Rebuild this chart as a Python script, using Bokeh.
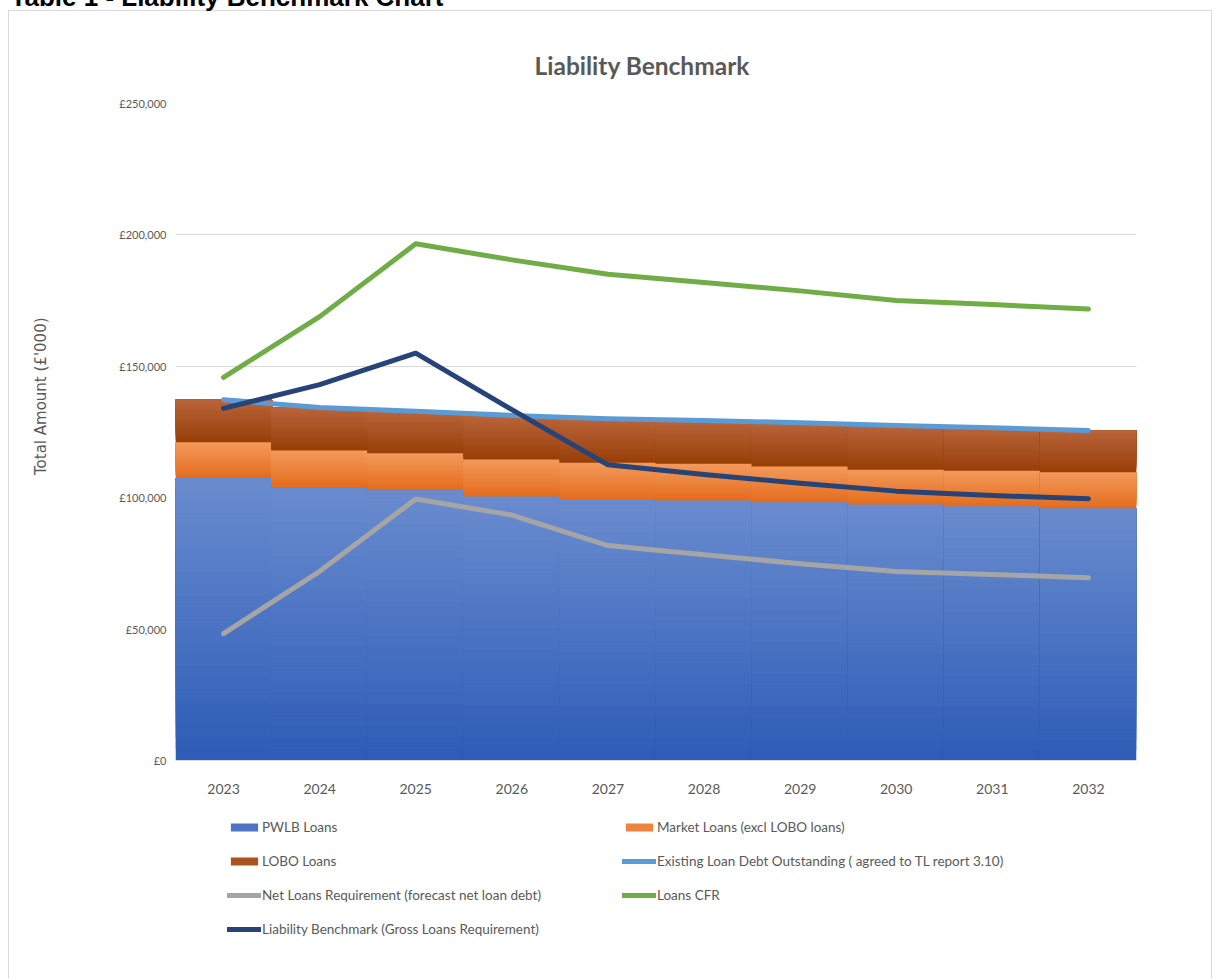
import math
from bokeh.plotting import figure
from bokeh.layouts import column
from bokeh.models import (ColumnDataSource, FactorRange, Range1d, FixedTicker,
                          Legend, LegendItem, Title)
from bokeh.embed import file_html
from bokeh.resources import INLINE

# ---------------- data ----------------
years = ["2023", "2024", "2025", "2026", "2027", "2028", "2029", "2030", "2031", "2032"]
pwlb = [107500, 103800, 103000, 100500, 99100, 98900, 98300, 97400, 96700, 96000]
market = [13600, 14200, 13900, 14000, 14200, 14000, 13600, 13200, 13600, 13700]
lobo = [16200, 16300, 16000, 16800, 16700, 16500, 16600, 16900, 16300, 15900]
existing = [137300, 134300, 132900, 131300, 130000, 129400, 128500, 127500, 126600, 125600]
net_req = [48300, 72000, 99500, 93400, 81800, 78300, 74900, 71900, 70800, 69500]
loans_cfr = [145800, 168900, 196600, 190500, 185000, 181900, 178700, 175000, 173500, 171800]
liab_bench = [134000, 143000, 155000, 133500, 112500, 108800, 105500, 102500, 100800, 99600]
y_ticks = [0, 50000, 100000, 150000, 200000, 250000]
y_tick_labels = ["£0", "£50,000", "£100,000", "£150,000", "£200,000", "£250,000"]

TXT = "#595959"
FONT = "Lato"
GRID = "#d9d9d9"
LG = "linear-gradient(#d9d9d9,#d9d9d9)"

SHIFT = 24                      # layout starts 24px above the page top
W = 1212
H_CHART = 800 + SHIFT
H_LEG = 200

# ================= chart figure =================
p = figure(width=W, height=H_CHART,
           x_range=FactorRange(factors=years, range_padding=0),
           y_range=Range1d(0, 250000),
           output_backend="svg", toolbar_location=None,
           min_border_left=175, min_border_right=76,
           min_border_top=103 + SHIFT, min_border_bottom=H_CHART - (760 + SHIFT),
           styles={"background": f"{LG} 8px 34px / 1px 100% no-repeat, "
                                 f"{LG} 8px 34px / 1204px 1px no-repeat, "
                                 f"{LG} 1211px 34px / 1px 100% no-repeat, #ffffff"})
p.outline_line_color = None
p.background_fill_color = "white"
p.border_fill_alpha = 0

def h2r(h):
    h = h.lstrip("#")
    return tuple(int(h[i:i + 2], 16) for i in (0, 2, 4))

def mix(c1, c2, t):
    a, b = h2r(c1), h2r(c2)
    return "#%02x%02x%02x" % tuple(round(a[i] + (b[i] - a[i]) * t) for i in range(3))

series = [
    ("PWLB Loans", pwlb, "#2d5cb6", "#6a8ccf"),
    ("Market Loans (excl LOBO loans)", market, "#e46c1c", "#f39a5c"),
    ("LOBO Loans", lobo, "#983f08", "#b9643a"),
]
N = 24
base = [0.0] * len(years)
area_sources = []
for name, vals, c_bot, c_top in series:
    xs, bots, tops, cols = [], [], [], []
    for i, yr in enumerate(years):
        b, t = base[i], base[i] + vals[i]
        for k in range(N):
            xs.append(yr)
            bots.append(b + (t - b) * k / N)
            tops.append(t)
            cols.append(mix(c_bot, c_top, (k + 0.5) / N))
        base[i] = t
    src = ColumnDataSource(dict(x=xs, bottom=bots, top=tops, color=cols))
    area_sources.append((name, src))
    p.vbar(x="x", bottom="bottom", top="top", width=1.01, source=src,
           fill_color="color", line_color=None)

line_specs = [
    ("Existing Loan Debt Outstanding ( agreed to TL report 3.10)", existing, "#5b9bd5"),
    ("Net Loans Requirement (forecast net loan debt)", net_req, "#a5a5a5"),
    ("Loans CFR", loans_cfr, "#70ad47"),
    ("Liability Benchmark (Gross Loans Requirement)", liab_bench, "#264478"),
]
for name, vals, col in line_specs:
    p.line(years, vals, line_color=col, line_width=5, line_join="round", line_cap="round")

# axes
p.yaxis.ticker = FixedTicker(ticks=y_ticks)
p.yaxis.major_label_overrides = {v: s for v, s in zip(y_ticks, y_tick_labels)}
p.yaxis.axis_line_color = None
p.yaxis.major_tick_line_color = None
p.yaxis.minor_tick_line_color = None
p.yaxis.major_label_standoff = 3
p.yaxis.major_label_text_font = FONT
p.yaxis.major_label_text_font_size = "11px"
p.yaxis.major_label_text_color = TXT
# leading no-break spaces move the (rotated) label up to where the reference has it
p.yaxis.axis_label = "\u00a0" * 15 + "Total Amount (£'000)"
p.yaxis.axis_label_standoff = 66
p.yaxis.axis_label_text_font = "DejaVu Sans"
p.yaxis.axis_label_text_font_style = "normal"
p.yaxis.axis_label_text_font_size = "15px"
p.yaxis.axis_label_text_color = TXT

p.xaxis.axis_line_color = GRID
p.xaxis.major_tick_line_color = None
p.xaxis.minor_tick_line_color = None
p.xaxis.major_label_standoff = 17
p.xaxis.major_label_text_font = FONT
p.xaxis.major_label_text_font_size = "14px"
p.xaxis.major_label_text_color = TXT

p.xgrid.grid_line_color = None
p.ygrid.grid_line_color = GRID
p.ygrid.grid_line_width = 1

# titles (stacked from the frame outward)
main_title = Title(text="Liability Benchmark", align="left", offset=359, standoff=47,
                   text_font=FONT, text_font_style="bold", text_font_size="24.5px",
                   text_color=TXT)
p.add_layout(main_title, "above")
spacer = Title(text=" ", align="left", offset=0, standoff=11,
               text_font=FONT, text_font_size="1px", text_color="#ffffff")
p.add_layout(spacer, "above")

p.title.text = "Table 1 - Liability Benchmark Chart"
p.title.align = "left"
p.title.offset = -165
p.title.standoff = 0
p.title.text_font = "Liberation Sans"
p.title.text_font_style = "bold"
p.title.text_font_size = "26px"
p.title.text_color = "#000000"

# ================= legend figure =================
# same glyphs, data kept outside (below) the view; only the legend shows
q = figure(width=W, height=H_LEG,
           x_range=FactorRange(factors=years, range_padding=0),
           y_range=Range1d(500000, 600000),
           output_backend="svg", toolbar_location=None,
           x_axis_location=None, y_axis_location=None,
           min_border=0, min_border_left=0, min_border_right=0,
           min_border_top=0, min_border_bottom=0,
           styles={"background": f"{LG} 8px 0px / 1px 100% no-repeat, "
                                 f"{LG} 1211px 0px / 1px 100% no-repeat, #ffffff"})
q.outline_line_color = None
q.background_fill_alpha = 0
q.border_fill_alpha = 0
q.grid.visible = False

leg = {}
for name, src in area_sources:
    r = q.vbar(x="x", bottom="bottom", top="top", width=1.0, source=src,
               fill_color="color", line_color=None)
    leg[name] = LegendItem(label=name, renderers=[r], index=N // 2)
for name, vals, col in line_specs:
    r = q.line(years, vals, line_color=col, line_width=5, line_cap="round")
    leg[name] = LegendItem(label=name, renderers=[r])

order = ["PWLB Loans", "LOBO Loans",
         "Net Loans Requirement (forecast net loan debt)",
         "Liability Benchmark (Gross Loans Requirement)",
         "Market Loans (excl LOBO loans)",
         "Existing Loan Debt Outstanding ( agreed to TL report 3.10)",
         "Loans CFR"]
legend = Legend(items=[leg[k] for k in order], ncols=2, location=(52, 41 + (H_LEG - 178)),
                glyph_width=34, glyph_height=10, label_standoff=1,
                label_width=342, label_height=10, spacing=18, padding=0, margin=0,
                label_text_font=FONT, label_text_font_size="13.5px", label_text_color=TXT,
                border_line_color=None, background_fill_alpha=0)
q.add_layout(legend, "center")

layout = column(p, q, spacing=0, styles={"margin-top": "-%dpx" % SHIFT})
open("out.html", "w").write(file_html(layout, INLINE))
